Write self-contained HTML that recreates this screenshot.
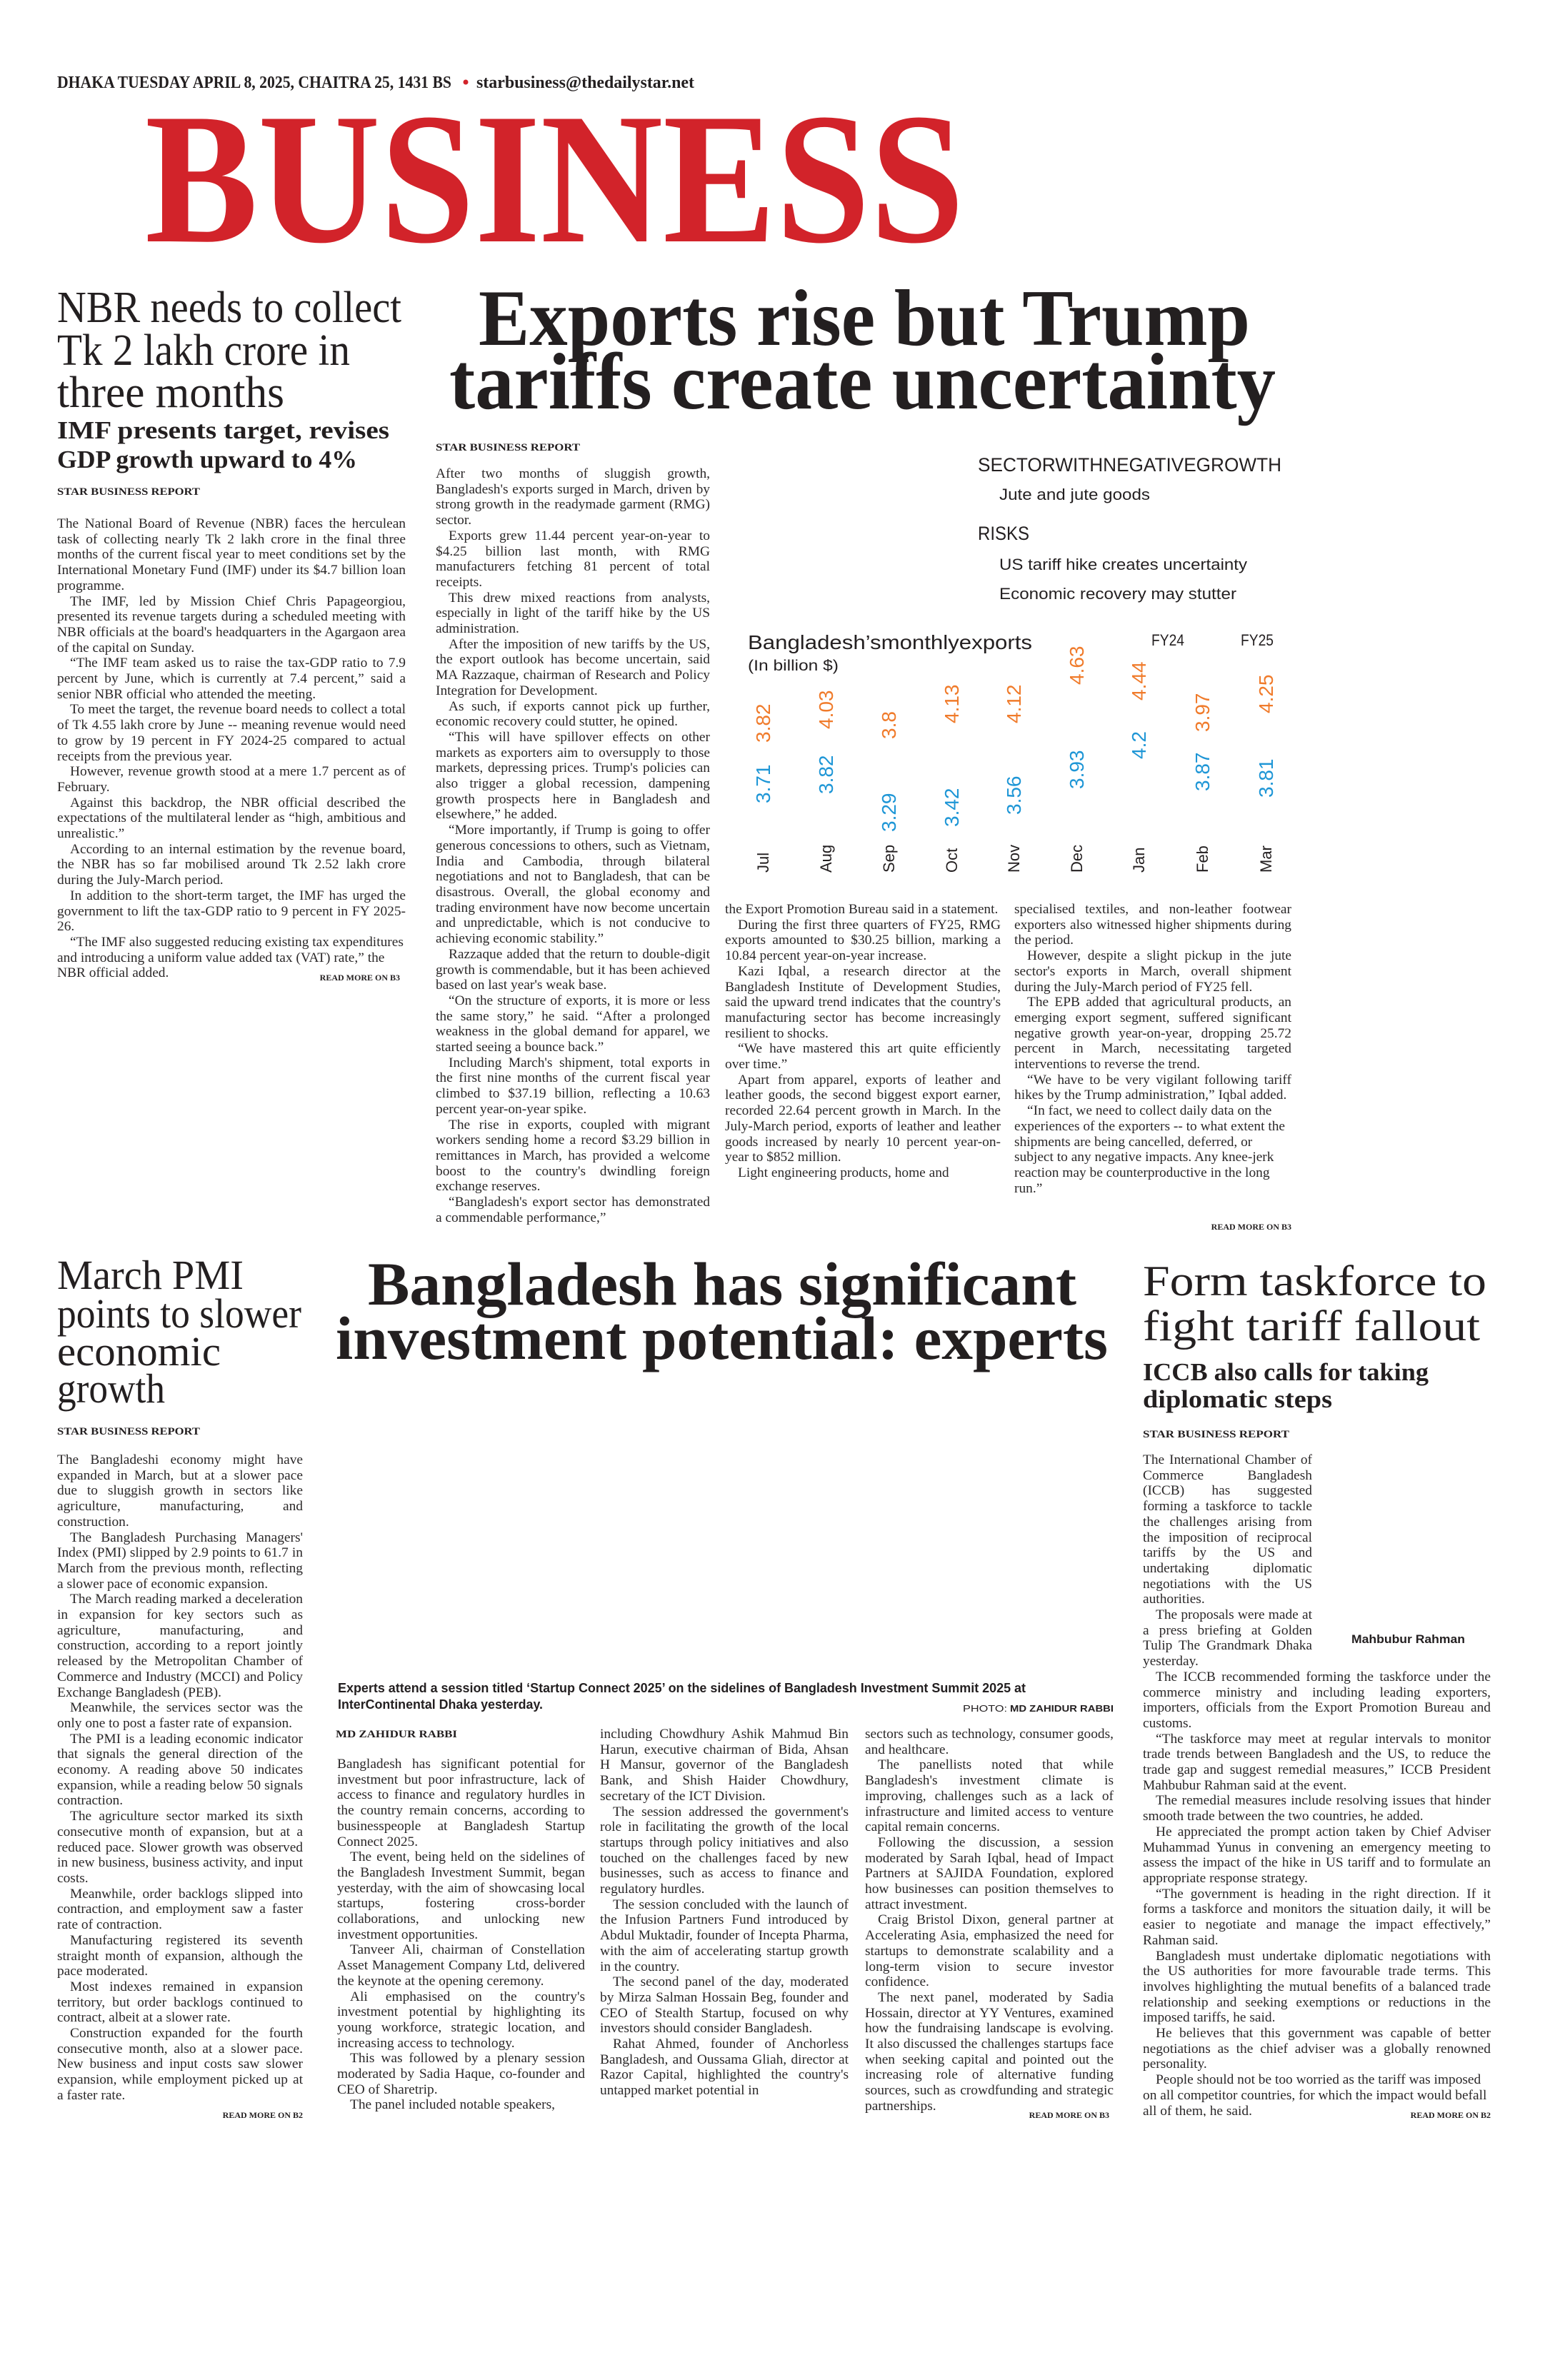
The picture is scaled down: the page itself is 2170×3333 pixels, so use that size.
<!DOCTYPE html>
<html><head><meta charset="utf-8">
<style>
html,body{margin:0;padding:0;background:#fff;}
#pg{position:relative;width:2170px;height:3333px;overflow:hidden;background:#fff;}
svg{position:absolute;left:0;top:0;}
.b{position:absolute;font-family:"Liberation Serif",serif;font-size:19.4px;line-height:21.7px;color:#2b2829;text-align:justify;overflow:hidden;}
.b p{margin:0;text-indent:18px;}
.b p.f{text-indent:0;}
.fl{float:right;width:250px;height:268px;}
</style></head><body><div id="pg">
<svg width="2170" height="3333" viewBox="0 0 2170 3333" xmlns="http://www.w3.org/2000/svg">
<g font-family="Liberation Serif, serif" fill="#231f20">
<text x="80" y="123" font-size="24" font-weight="bold" textLength="552" lengthAdjust="spacingAndGlyphs">DHAKA TUESDAY APRIL 8, 2025, CHAITRA 25, 1431 BS</text>
<circle cx="652" cy="115" r="3.5" fill="#d2232a"/>
<text x="667" y="123" font-size="24" font-weight="bold" textLength="305" lengthAdjust="spacingAndGlyphs">starbusiness@thedailystar.net</text>
<text x="203" y="338" font-size="262" font-weight="bold" fill="#d2232a" textLength="1147" lengthAdjust="spacingAndGlyphs">BUSINESS</text>

<text x="80" y="451" font-size="62" textLength="482" lengthAdjust="spacingAndGlyphs">NBR needs to collect</text>
<text x="80" y="511" font-size="62" textLength="410" lengthAdjust="spacingAndGlyphs">Tk 2 lakh crore in</text>
<text x="80" y="570" font-size="62" textLength="318" lengthAdjust="spacingAndGlyphs">three months</text>
<text x="80" y="614" font-size="35" font-weight="bold" textLength="465" lengthAdjust="spacingAndGlyphs">IMF presents target, revises</text>
<text x="80" y="655" font-size="35" font-weight="bold" textLength="420" lengthAdjust="spacingAndGlyphs">GDP growth upward to 4%</text>
<text x="80" y="693" font-size="15" font-weight="bold" textLength="200" lengthAdjust="spacingAndGlyphs">STAR BUSINESS REPORT</text>
<text x="560" y="1373" font-size="12" font-weight="bold" text-anchor="end">READ MORE ON B3</text>

<text x="670" y="483" font-size="112" font-weight="bold" textLength="1080" lengthAdjust="spacingAndGlyphs">Exports rise but Trump</text>
<text x="629" y="572" font-size="112" font-weight="bold" textLength="1157" lengthAdjust="spacingAndGlyphs">tariffs create uncertainty</text>
<text x="610" y="631" font-size="15" font-weight="bold" textLength="202" lengthAdjust="spacingAndGlyphs">STAR BUSINESS REPORT</text>
<text x="1808" y="1722" font-size="12" font-weight="bold" text-anchor="end">READ MORE ON B3</text>

<text x="80" y="1805" font-size="58" textLength="261" lengthAdjust="spacingAndGlyphs">March PMI</text>
<text x="80" y="1859" font-size="58" textLength="342" lengthAdjust="spacingAndGlyphs">points to slower</text>
<text x="80" y="1912" font-size="58" textLength="229" lengthAdjust="spacingAndGlyphs">economic</text>
<text x="80" y="1964" font-size="58" textLength="151" lengthAdjust="spacingAndGlyphs">growth</text>
<text x="80" y="2009" font-size="15" font-weight="bold" textLength="200" lengthAdjust="spacingAndGlyphs">STAR BUSINESS REPORT</text>
<text x="424" y="2966" font-size="12" font-weight="bold" text-anchor="end">READ MORE ON B2</text>

<text x="515" y="1827" font-size="86" font-weight="bold" textLength="992" lengthAdjust="spacingAndGlyphs">Bangladesh has significant</text>
<text x="470" y="1903" font-size="86" font-weight="bold" textLength="1081" lengthAdjust="spacingAndGlyphs">investment potential: experts</text>
<text x="470" y="2433" font-size="15" font-weight="bold" textLength="170" lengthAdjust="spacingAndGlyphs">MD ZAHIDUR RABBI</text>
<text x="1553" y="2966" font-size="12" font-weight="bold" text-anchor="end">READ MORE ON B3</text>

<text x="1600" y="1814" font-size="60" textLength="481" lengthAdjust="spacingAndGlyphs">Form taskforce to</text>
<text x="1600" y="1877" font-size="60" textLength="472" lengthAdjust="spacingAndGlyphs">fight tariff fallout</text>
<text x="1600" y="1933" font-size="35" font-weight="bold" textLength="400" lengthAdjust="spacingAndGlyphs">ICCB also calls for taking</text>
<text x="1600" y="1971" font-size="35" font-weight="bold" textLength="265" lengthAdjust="spacingAndGlyphs">diplomatic steps</text>
<text x="1600" y="2013" font-size="15" font-weight="bold" textLength="205" lengthAdjust="spacingAndGlyphs">STAR BUSINESS REPORT</text>
<text x="2087" y="2966" font-size="12" font-weight="bold" text-anchor="end">READ MORE ON B2</text>
</g>

<g font-family="Liberation Sans, sans-serif" font-weight="bold" fill="#231f20">
<text x="473" y="2370" font-size="18" textLength="963" lengthAdjust="spacingAndGlyphs">Experts attend a session titled ‘Startup Connect 2025’ on the sidelines of Bangladesh Investment Summit 2025 at</text>
<text x="473" y="2393" font-size="18" textLength="287" lengthAdjust="spacingAndGlyphs">InterContinental Dhaka yesterday.</text>
<text x="1348" y="2397" font-size="13" font-weight="normal" textLength="62" lengthAdjust="spacingAndGlyphs">PHOTO:</text>
<text x="1414" y="2397" font-size="13" textLength="145" lengthAdjust="spacingAndGlyphs">MD ZAHIDUR RABBI</text>
<text x="1892" y="2301" font-size="17" textLength="159" lengthAdjust="spacingAndGlyphs">Mahbubur Rahman</text>
</g>

<g font-family="Liberation Sans, sans-serif" fill="#231f20">
<text x="1369" y="660" font-size="27" textLength="425" lengthAdjust="spacingAndGlyphs">SECTORWITHNEGATIVEGROWTH</text>
<text x="1399" y="700" font-size="22" textLength="211" lengthAdjust="spacingAndGlyphs">Jute and jute goods</text>
<text x="1369" y="756" font-size="27" textLength="72" lengthAdjust="spacingAndGlyphs">RISKS</text>
<text x="1399" y="798" font-size="22" textLength="347" lengthAdjust="spacingAndGlyphs">US tariff hike creates uncertainty</text>
<text x="1399" y="839" font-size="22" textLength="332" lengthAdjust="spacingAndGlyphs">Economic recovery may stutter</text>
<text x="1047" y="909" font-size="28" textLength="398" lengthAdjust="spacingAndGlyphs">Bangladesh’smonthlyexports</text>
<text x="1047" y="939" font-size="21" textLength="127" lengthAdjust="spacingAndGlyphs">(In billion $)</text>
<text x="1612" y="904" font-size="22" textLength="46" lengthAdjust="spacingAndGlyphs">FY24</text>
<text x="1737" y="904" font-size="22" textLength="46" lengthAdjust="spacingAndGlyphs">FY25</text>

<g font-size="22">
<text transform="translate(1076,1222) rotate(-90)">Jul</text>
<text transform="translate(1164,1222) rotate(-90)">Aug</text>
<text transform="translate(1252,1222) rotate(-90)">Sep</text>
<text transform="translate(1340,1222) rotate(-90)">Oct</text>
<text transform="translate(1427,1222) rotate(-90)">Nov</text>
<text transform="translate(1515,1222) rotate(-90)">Dec</text>
<text transform="translate(1602,1222) rotate(-90)">Jan</text>
<text transform="translate(1691,1222) rotate(-90)">Feb</text>
<text transform="translate(1780,1222) rotate(-90)">Mar</text>
</g>
<g font-size="28" fill="#f07b2b">
<text transform="translate(1078,1040) rotate(-90)">3.82</text>
<text transform="translate(1166,1021) rotate(-90)">4.03</text>
<text transform="translate(1254,1035) rotate(-90)">3.8</text>
<text transform="translate(1342,1013) rotate(-90)">4.13</text>
<text transform="translate(1429,1013) rotate(-90)">4.12</text>
<text transform="translate(1517,959) rotate(-90)">4.63</text>
<text transform="translate(1604,981) rotate(-90)">4.44</text>
<text transform="translate(1693,1025) rotate(-90)">3.97</text>
<text transform="translate(1782,999) rotate(-90)">4.25</text>
</g>
<g font-size="28" fill="#1e96d6">
<text transform="translate(1078,1125) rotate(-90)">3.71</text>
<text transform="translate(1166,1112) rotate(-90)">3.82</text>
<text transform="translate(1254,1165) rotate(-90)">3.29</text>
<text transform="translate(1342,1158) rotate(-90)">3.42</text>
<text transform="translate(1429,1141) rotate(-90)">3.56</text>
<text transform="translate(1517,1105) rotate(-90)">3.93</text>
<text transform="translate(1604,1063) rotate(-90)">4.2</text>
<text transform="translate(1693,1108) rotate(-90)">3.87</text>
<text transform="translate(1782,1117) rotate(-90)">3.81</text>
</g>
</g>
</svg>

<div class="b" style="left:80px;top:723px;width:488px;height:660px;">
<p class="f">The National Board of Revenue (NBR) faces the herculean task of collecting nearly Tk 2 lakh crore in the final three months of the current fiscal year to meet conditions set by the International Monetary Fund (IMF) under its $4.7 billion loan programme.</p>
<p>The IMF, led by Mission Chief Chris Papageorgiou, presented its revenue targets during a scheduled meeting with NBR officials at the board's headquarters in the Agargaon area of the capital on Sunday.</p>
<p>“The IMF team asked us to raise the tax-GDP ratio to 7.9 percent by June, which is currently at 7.4 percent,” said a senior NBR official who attended the meeting.</p>
<p>To meet the target, the revenue board needs to collect a total of Tk 4.55 lakh crore by June -- meaning revenue would need to grow by 19 percent in FY 2024-25 compared to actual receipts from the previous year.</p>
<p>However, revenue growth stood at a mere 1.7 percent as of February.</p>
<p>Against this backdrop, the NBR official described the expectations of the multilateral lender as “high, ambitious and unrealistic.”</p>
<p>According to an internal estimation by the revenue board, the NBR has so far mobilised around Tk 2.52 lakh crore during the July-March period.</p>
<p>In addition to the short-term target, the IMF has urged the government to lift the tax-GDP ratio to 9 percent in FY 2025-26.</p>
<p style="text-align:left">“The IMF also suggested reducing existing tax expenditures and introducing a uniform value added tax (VAT) rate,” the NBR official added.</p>
</div>

<div class="b" style="left:610px;top:653px;width:384px;height:1075px;">
<p class="f">After two months of sluggish growth, Bangladesh's exports surged in March, driven by strong growth in the readymade garment (RMG) sector.</p>
<p>Exports grew 11.44 percent year-on-year to $4.25 billion last month, with RMG manufacturers fetching 81 percent of total receipts.</p>
<p>This drew mixed reactions from analysts, especially in light of the tariff hike by the US administration.</p>
<p>After the imposition of new tariffs by the US, the export outlook has become uncertain, said MA Razzaque, chairman of Research and Policy Integration for Development.</p>
<p>As such, if exports cannot pick up further, economic recovery could stutter, he opined.</p>
<p>“This will have spillover effects on other markets as exporters aim to oversupply to those markets, depressing prices. Trump's policies can also trigger a global recession, dampening growth prospects here in Bangladesh and elsewhere,” he added.</p>
<p>“More importantly, if Trump is going to offer generous concessions to others, such as Vietnam, India and Cambodia, through bilateral negotiations and not to Bangladesh, that can be disastrous. Overall, the global economy and trading environment have now become uncertain and unpredictable, which is not conducive to achieving economic stability.”</p>
<p>Razzaque added that the return to double-digit growth is commendable, but it has been achieved based on last year's weak base.</p>
<p>“On the structure of exports, it is more or less the same story,” he said. “After a prolonged weakness in the global demand for apparel, we started seeing a bounce back.”</p>
<p>Including March's shipment, total exports in the first nine months of the current fiscal year climbed to $37.19 billion, reflecting a 10.63 percent year-on-year spike.</p>
<p>The rise in exports, coupled with migrant workers sending home a record $3.29 billion in remittances in March, has provided a welcome boost to the country's dwindling foreign exchange reserves.</p>
<p>“Bangladesh's export sector has demonstrated a commendable performance,”</p>
</div>

<div class="b" style="left:1015px;top:1263px;width:386px;height:465px;">
<p class="f">the Export Promotion Bureau said in a statement.</p>
<p>During the first three quarters of FY25, RMG exports amounted to $30.25 billion, marking a 10.84 percent year-on-year increase.</p>
<p>Kazi Iqbal, a research director at the Bangladesh Institute of Development Studies, said the upward trend indicates that the country's manufacturing sector has become increasingly resilient to shocks.</p>
<p>“We have mastered this art quite efficiently over time.”</p>
<p>Apart from apparel, exports of leather and leather goods, the second biggest export earner, recorded 22.64 percent growth in March. In the July-March period, exports of leather and leather goods increased by nearly 10 percent year-on-year to $852 million.</p>
<p>Light engineering products, home and</p>
</div>

<div class="b" style="left:1420px;top:1263px;width:388px;height:452px;">
<p class="f">specialised textiles, and non-leather footwear exporters also witnessed higher shipments during the period.</p>
<p>However, despite a slight pickup in the jute sector's exports in March, overall shipment during the July-March period of FY25 fell.</p>
<p>The EPB added that agricultural products, an emerging export segment, suffered significant negative growth year-on-year, dropping 25.72 percent in March, necessitating targeted interventions to reverse the trend.</p>
<p>“We have to be very vigilant following tariff hikes by the Trump administration,” Iqbal added.</p>
<p style="text-align:left">“In fact, we need to collect daily data on the experiences of the exporters -- to what extent the shipments are being cancelled, deferred, or subject to any negative impacts. Any knee-jerk reaction may be counterproductive in the long run.”</p>
</div>

<div class="b" style="left:80px;top:2034px;width:344px;height:930px;">
<p class="f">The Bangladeshi economy might have expanded in March, but at a slower pace due to sluggish growth in sectors like agriculture, manufacturing, and construction.</p>
<p>The Bangladesh Purchasing Managers' Index (PMI) slipped by 2.9 points to 61.7 in March from the previous month, reflecting a slower pace of economic expansion.</p>
<p>The March reading marked a deceleration in expansion for key sectors such as agriculture, manufacturing, and construction, according to a report jointly released by the Metropolitan Chamber of Commerce and Industry (MCCI) and Policy Exchange Bangladesh (PEB).</p>
<p>Meanwhile, the services sector was the only one to post a faster rate of expansion.</p>
<p>The PMI is a leading economic indicator that signals the general direction of the economy. A reading above 50 indicates expansion, while a reading below 50 signals contraction.</p>
<p>The agriculture sector marked its sixth consecutive month of expansion, but at a reduced pace. Slower growth was observed in new business, business activity, and input costs.</p>
<p>Meanwhile, order backlogs slipped into contraction, and employment saw a faster rate of contraction.</p>
<p>Manufacturing registered its seventh straight month of expansion, although the pace moderated.</p>
<p>Most indexes remained in expansion territory, but order backlogs continued to contract, albeit at a slower rate.</p>
<p>Construction expanded for the fourth consecutive month, also at a slower pace. New business and input costs saw slower expansion, while employment picked up at a faster rate.</p>
</div>

<div class="b" style="left:472px;top:2460px;width:347px;height:505px;">
<p class="f">Bangladesh has significant potential for investment but poor infrastructure, lack of access to finance and regulatory hurdles in the country remain concerns, according to businesspeople at Bangladesh Startup Connect 2025.</p>
<p>The event, being held on the sidelines of the Bangladesh Investment Summit, began yesterday, with the aim of showcasing local startups, fostering cross-border collaborations, and unlocking new investment opportunities.</p>
<p>Tanveer Ali, chairman of Constellation Asset Management Company Ltd, delivered the keynote at the opening ceremony.</p>
<p>Ali emphasised on the country's investment potential by highlighting its young workforce, strategic location, and increasing access to technology.</p>
<p>This was followed by a plenary session moderated by Sadia Haque, co-founder and CEO of Sharetrip.</p>
<p>The panel included notable speakers,</p>
</div>

<div class="b" style="left:840px;top:2418px;width:348px;height:548px;">
<p class="f">including Chowdhury Ashik Mahmud Bin Harun, executive chairman of Bida, Ahsan H Mansur, governor of the Bangladesh Bank, and Shish Haider Chowdhury, secretary of the ICT Division.</p>
<p>The session addressed the government's role in facilitating the growth of the local startups through policy initiatives and also touched on the challenges faced by new businesses, such as access to finance and regulatory hurdles.</p>
<p>The session concluded with the launch of the Infusion Partners Fund introduced by Abdul Muktadir, founder of Incepta Pharma, with the aim of accelerating startup growth in the country.</p>
<p>The second panel of the day, moderated by Mirza Salman Hossain Beg, founder and CEO of Stealth Startup, focused on why investors should consider Bangladesh.</p>
<p>Rahat Ahmed, founder of Anchorless Bangladesh, and Oussama Gliah, director at Razor Capital, highlighted the country's untapped market potential in</p>
</div>

<div class="b" style="left:1211px;top:2418px;width:348px;height:548px;">
<p class="f">sectors such as technology, consumer goods, and healthcare.</p>
<p>The panellists noted that while Bangladesh's investment climate is improving, challenges such as a lack of infrastructure and limited access to venture capital remain concerns.</p>
<p>Following the discussion, a session moderated by Sarah Iqbal, head of Impact Partners at SAJIDA Foundation, explored how businesses can position themselves to attract investment.</p>
<p>Craig Bristol Dixon, general partner at Accelerating Asia, emphasized the need for startups to demonstrate scalability and a long-term vision to secure investor confidence.</p>
<p>The next panel, moderated by Sadia Hossain, director at YY Ventures, examined how the fundraising landscape is evolving. It also discussed the challenges startups face when seeking capital and pointed out the increasing role of alternative funding sources, such as crowdfunding and strategic partnerships.</p>
</div>

<div class="b" style="left:1600px;top:2034px;width:487px;height:930px;">
<div class="fl"></div>
<p class="f">The International Chamber of Commerce Bangladesh (ICCB) has suggested forming a taskforce to tackle the challenges arising from the imposition of reciprocal tariffs by the US and undertaking diplomatic negotiations with the US authorities.</p>
<p>The proposals were made at a press briefing at Golden Tulip The Grandmark Dhaka yesterday.</p>
<p>The ICCB recommended forming the taskforce under the commerce ministry and including leading exporters, importers, officials from the Export Promotion Bureau and customs.</p>
<p>“The taskforce may meet at regular intervals to monitor trade trends between Bangladesh and the US, to reduce the trade gap and suggest remedial measures,” ICCB President Mahbubur Rahman said at the event.</p>
<p>The remedial measures include resolving issues that hinder smooth trade between the two countries, he added.</p>
<p>He appreciated the prompt action taken by Chief Adviser Muhammad Yunus in convening an emergency meeting to assess the impact of the hike in US tariff and to formulate an appropriate response strategy.</p>
<p>“The government is heading in the right direction. If it forms a taskforce and monitors the situation daily, it will be easier to negotiate and manage the impact effectively,” Rahman said.</p>
<p>Bangladesh must undertake diplomatic negotiations with the US authorities for more favourable trade terms. This involves highlighting the mutual benefits of a balanced trade relationship and seeking exemptions or reductions in the imposed tariffs, he said.</p>
<p>He believes that this government was capable of better negotiations as the chief adviser was a globally renowned personality.</p>
<p style="text-align:left">People should not be too worried as the tariff was imposed on all competitor countries, for which the impact would befall all of them, he said.</p>
</div>
</div></body></html>
